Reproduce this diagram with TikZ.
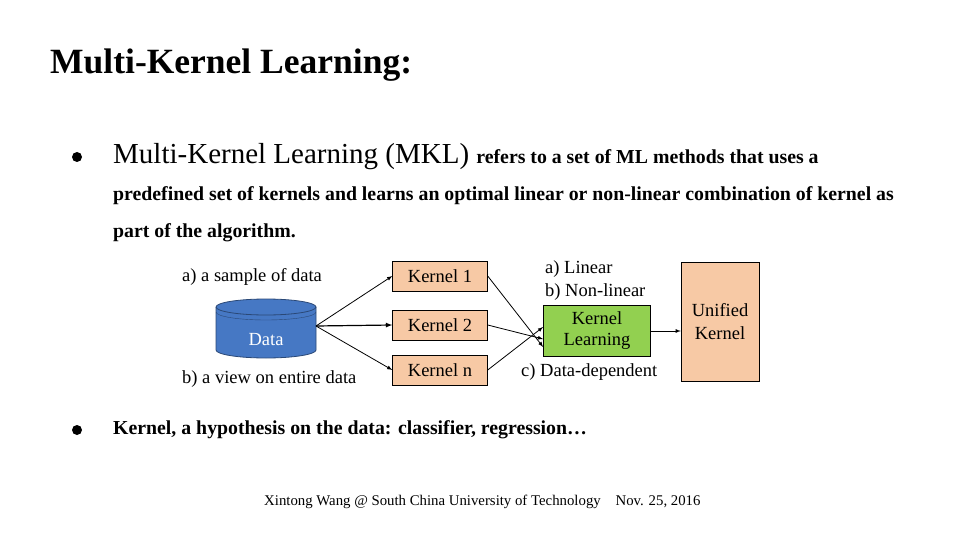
\documentclass[tikz,border=0pt]{standalone}
\usepackage{fontspec}
\setmainfont{Liberation Serif}
\begin{document}
\begin{tikzpicture}[x=1pt,y=-1pt,
  kbox/.style={draw=black,minimum width=95pt,minimum height=30pt,inner sep=0pt,font=\fontsize{18.5}{20}\selectfont},
  lbl/.style={anchor=west,inner sep=0pt,font=\fontsize{18.5}{20}\selectfont},
  arr/.style={-latex,thick},
  every node/.style={text=black}]
\useasboundingbox (0,0) rectangle (960,540);
\node[anchor=west,inner sep=0pt,font=\fontsize{35.5}{40}\selectfont\bfseries] (title) at (50,65) {Multi-Kernel Learning:};
\fill (77,157) circle (5);
\node[anchor=west,inner sep=0pt] (l1) at (113,157) {\fontsize{29}{32}\selectfont Multi-Kernel Learning (MKL) \fontsize{19.8}{22}\selectfont\bfseries refers to a set of ML methods that uses a};
\node[anchor=west,inner sep=0pt,font=\fontsize{19.8}{22}\selectfont\bfseries] (l2) at (113,196) {predefined set of kernels and learns an optimal linear or non-linear combination of kernel as};
\node[anchor=west,inner sep=0pt,font=\fontsize{19.8}{22}\selectfont\bfseries] (l3) at (113,233) {part of the algorithm.};
% diagram
\definecolor{kfill}{RGB}{247,201,165}
\definecolor{dblue}{RGB}{70,120,196}
\definecolor{kgreen}{RGB}{146,208,80}
\filldraw[fill=dblue,draw=dblue!60!black,thick] (216,307) -- (216,350) arc[start angle=180,end angle=0,x radius=50,y radius=8] -- (316,307) arc[start angle=0,end angle=-180,x radius=50,y radius=8] -- cycle;
\draw[dblue!60!black,thick] (216,307) arc[start angle=180,end angle=0,x radius=50,y radius=8];
\draw[dblue!60!black] (216,312) arc[start angle=180,end angle=0,x radius=50,y radius=8];
\node[text=white,font=\fontsize{18.5}{20}\selectfont] (data) at (266,340) {Data};
\coordinate (dout) at (316,326);
\node[kbox,fill=kfill] (k1) at (440,276) {Kernel 1};
\node[kbox,fill=kfill] (k2) at (440,325) {Kernel 2};
\node[kbox,fill=kfill] (kn) at (440,370) {Kernel n};
\node[draw=black,thick,fill=kgreen,minimum width=107pt,minimum height=51pt,inner sep=0pt,align=center,font=\fontsize{18.5}{21}\selectfont] (kl) at (597,331) {Kernel\\Learning};
\node[draw=black,fill=kfill,minimum width=78pt,minimum height=119pt,inner sep=0pt,align=center,font=\fontsize{18.5}{23}\selectfont] (uk) at (720,322) {Unified\\Kernel};
\draw[arr] (dout) -- (k1.west);
\draw[arr,very thick] (dout) -- (k2.west);
\draw[arr] (dout) -- (kn.west);
\draw[arr] (k1.east) -- ([yshift=-16pt]kl.west);
\draw[arr] (k2.east) -- ([yshift=-8pt]kl.west);
\draw[arr] (kn.east) -- ([yshift=4pt]kl.west);
\draw[arr] (kl.east) -- (kl.east -| uk.west);
\node[lbl] (sa) at (182,277) {a) a sample of data};
\node[lbl] (sb) at (182,379) {b) a view on entire data};
\node[lbl] (la) at (545,269) {a) Linear};
\node[lbl] (lb) at (545,292) {b) Non-linear};
\node[lbl] (lc) at (521,372) {c) Data-dependent};
\fill (77,430) circle (5);
\node[anchor=west,inner sep=0pt,font=\fontsize{19.8}{22}\selectfont\bfseries] (b2) at (113,430) {Kernel, a hypothesis on the data: classifier, regression…};
\node[anchor=west,inner sep=0pt,font=\fontsize{14.8}{16}\selectfont] (foot) at (264,502) {Xintong Wang @ South China University of Technology\quad Nov. 25, 2016};
\end{tikzpicture}
\end{document}
